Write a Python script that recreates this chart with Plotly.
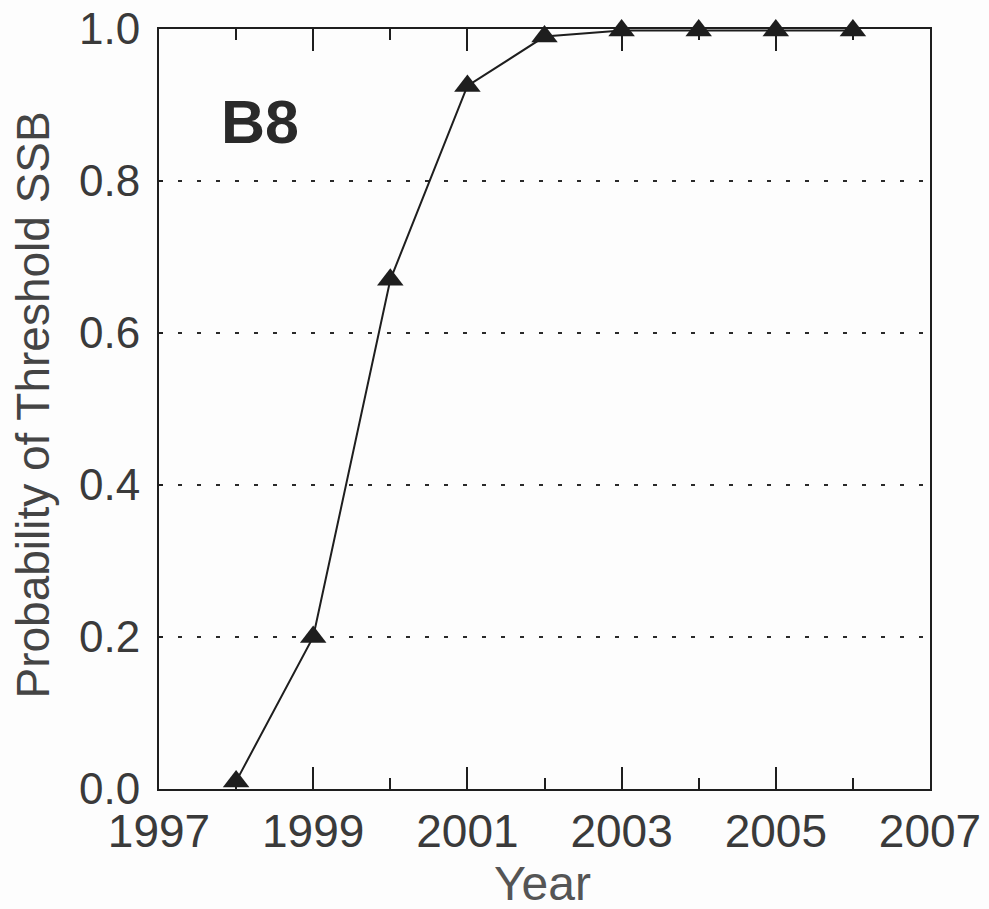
import plotly.graph_objects as go

# Probability of SSB exceeding threshold, by projection year
years = [1998, 1999, 2000, 2001, 2002, 2003, 2004, 2005, 2006]
prob = [0.01, 0.20, 0.67, 0.925, 0.99, 0.998, 0.998, 0.998, 0.998]

x_ticks = [1997, 1999, 2001, 2003, 2005, 2007]
y_ticks = [0.0, 0.2, 0.4, 0.6, 0.8, 1.0]
y_tick_labels = ["0.0", "0.2", "0.4", "0.6", "0.8", "1.0"]

ink = "#1e1e1e"
label_color = "#3a3a3a"
font_family = "Liberation Sans, Arial, sans-serif"

fig = go.Figure()
fig.add_trace(go.Scatter(
    x=years, y=prob, mode="lines+markers",
    line=dict(color=ink, width=2),
    marker=dict(symbol="triangle-up", size=23, color=ink),
    cliponaxis=False, showlegend=False,
))

fig.update_layout(
    width=989, height=909,
    margin=dict(l=159, r=59, t=29, b=120, autoexpand=False),
    paper_bgcolor="#fdfdfd", plot_bgcolor="#fdfdfd",
    font=dict(family=font_family, color=label_color),
    xaxis=dict(
        range=[1997, 2007], tickvals=x_ticks, ticktext=[str(v) for v in x_ticks],
        ticks="inside", ticklen=22, tickwidth=2, tickcolor=ink,
        minor=dict(dtick=1, tick0=1997, ticks="inside", ticklen=11, tickwidth=2, tickcolor=ink),
        showline=True, linecolor=ink, linewidth=2, mirror="ticks",
        showgrid=False, zeroline=False, ticklabelstandoff=1, automargin=False,
        tickfont=dict(size=46, color=label_color),
    ),
    yaxis=dict(
        range=[0, 1], tickvals=y_ticks, ticktext=y_tick_labels,
        ticks="inside", ticklen=4, tickwidth=2, tickcolor=ink,
        showline=True, linecolor=ink, linewidth=2, mirror=True,
        showgrid=True, gridcolor="#2a2a2a", gridwidth=2, griddash="4px,15px",
        zeroline=False, ticklabelstandoff=8, automargin=False,
        tickfont=dict(size=44, color=label_color),
    ),
    yaxis2=dict(
        range=[0, 1], overlaying="y", side="right", tickvals=y_ticks,
        ticks="inside", ticklen=23, tickwidth=2, tickcolor=ink, automargin=False,
        showticklabels=False, showgrid=False, zeroline=False, showline=False,
    ),
    annotations=[
        dict(text="<b>B8</b>", x=0.078, y=0.878, xref="paper", yref="paper",
             xanchor="left", yanchor="middle", showarrow=False,
             font=dict(size=61, color="#2a2a2a", family=font_family)),
        dict(text="Probability of Threshold SSB", x=-0.163, y=0.505, xref="paper", yref="paper",
             textangle=-90, xanchor="center", yanchor="middle", showarrow=False,
             font=dict(size=46, color="#444444", family=font_family)),
        dict(text="Year", x=0.498, y=-0.124, xref="paper", yref="paper",
             xanchor="center", yanchor="middle", showarrow=False,
             font=dict(size=48, color="#555555", family=font_family)),
    ],
)

fig.write_html("out.html")
